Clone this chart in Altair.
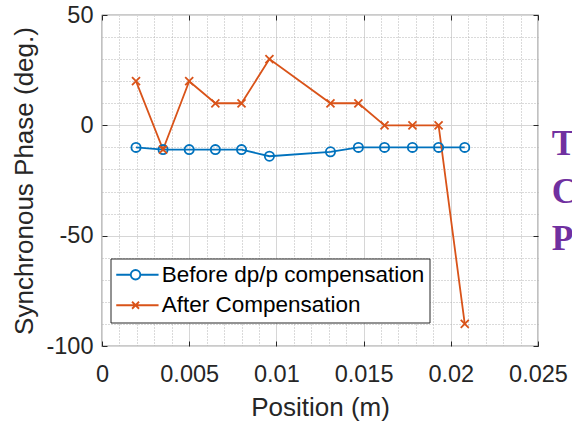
import altair as alt
import pandas as pd

# ---- data ----
positions = [0.00195, 0.0035, 0.005, 0.0065, 0.008, 0.0096, 0.0131, 0.0147, 0.0162, 0.0178, 0.0193, 0.0208]
before_phase = [-10, -11, -11, -11, -11, -14, -12, -10, -10, -10, -10, -10]
after_phase = [20, -11, 20, 10, 10, 30, 10, 10, 0, 0, 0, -90]
series_names = ["Before dp/p compensation", "After Compensation"]
series_colors = ["#0072BD", "#D95319"]
x_major = [0, 0.005, 0.01, 0.015, 0.02, 0.025]
x_minor = [0, 0.001, 0.002, 0.003, 0.004, 0.005, 0.006, 0.007, 0.008, 0.009, 0.01,
           0.011, 0.012, 0.013, 0.014, 0.015, 0.016, 0.017, 0.018, 0.019, 0.02,
           0.021, 0.022, 0.023, 0.024, 0.025]
y_major = [-100, -50, 0, 50]
y_minor = [-100, -90, -80, -70, -60, -50, -40, -30, -20, -10, 0, 10, 20, 30, 40, 50]
side_letters = ["T", "C", "P"]

rows = []
for p, b in zip(positions, before_phase):
    rows.append({"position": p, "phase": b, "series": series_names[0]})
for p, a in zip(positions, after_phase):
    rows.append({"position": p, "phase": a, "series": series_names[1]})
df = pd.DataFrame(rows)

FONT = "Liberation Sans"
TXT = "#262626"
xs = alt.Scale(domain=[0, 0.025], nice=False, zero=False)
ys = alt.Scale(domain=[-100, 50], nice=False, zero=False)
cs = alt.Scale(domain=series_names, range=series_colors)

base = alt.Chart(df)

LEG_CIRCLE = "M-2.1,0H0.81M2.71,0H6.36M0.81,0A0.95,0.95 0 1,1 2.71,0A0.95,0.95 0 1,1 0.81,0"
LEG_X = "M-2.1,0H6.36M1.06,-0.7L2.46,0.7M1.06,0.7L2.46,-0.7"
leg_props = dict(
    title=None, orient="none", legendX=8.5, legendY=243.5,
    strokeColor="#262626", fillColor="white", padding=5,
    labelFont=FONT, labelFontSize=22.5, labelColor="#000000", labelOffset=23.7,
    labelLimit=500,
    symbolSize=100, symbolStrokeWidth=1.8, symbolOpacity=1, rowPadding=7.5,
    symbolFillColor="transparent",
)
# invisible layer that only carries the legend (first, so its legend settings win)
legend_layer = base.mark_point(opacity=0, filled=False, strokeWidth=1.8).encode(
    x=alt.X("position:Q", scale=xs, axis=None),
    y=alt.Y("phase:Q", scale=ys, axis=None),
    color=alt.Color("series:N", scale=cs, legend=alt.Legend(**leg_props)),
    shape=alt.Shape("series:N", scale=alt.Scale(domain=series_names, range=[LEG_CIRCLE, LEG_X]),
                    legend=alt.Legend(**leg_props)),
)

# minor dotted grid
minor = base.mark_point(opacity=0).encode(
    x=alt.X("position:Q", scale=xs, axis=alt.Axis(
        orient="bottom", values=x_minor, grid=True, gridDash=[1, 2], gridColor="#b5b5b5",
        gridWidth=1, labels=False, ticks=False, domain=False, title=None)),
    y=alt.Y("phase:Q", scale=ys, axis=alt.Axis(
        orient="left", values=y_minor, grid=True, gridDash=[1, 2], gridColor="#b5b5b5",
        gridWidth=1, labels=False, ticks=False, domain=False, title=None)),
)

# major grid + labels + titles
major = base.mark_point(opacity=0).encode(
    x=alt.X("position:Q", scale=xs, axis=alt.Axis(
        orient="bottom", values=x_major, grid=True, gridColor="#d6d6d6", gridWidth=1,
        ticks=False, domain=False, labelExpr="datum.value + ''",
        labelFlush=False, labelOverlap=False,
        labelFont=FONT, labelFontSize=23.5, labelColor=TXT, labelPadding=16,
        title="Position (m)", titleFont=FONT, titleFontSize=26, titleFontWeight="normal",
        titleColor=TXT, titlePadding=9)),
    y=alt.Y("phase:Q", scale=ys, axis=alt.Axis(
        orient="left", values=y_major, grid=True, gridColor="#d6d6d6", gridWidth=1,
        ticks=False, domain=False, labelExpr="datum.value + ''",
        labelFlush=False, labelOverlap=False,
        labelFont=FONT, labelFontSize=23.5, labelColor=TXT, labelPadding=9,
        title="Synchronous Phase (deg.)", titleFont=FONT, titleFontSize=26,
        titleFontWeight="normal", titleColor=TXT, titlePadding=8)),
)

def tick_layer(xo, yo):
    return base.mark_point(opacity=0).encode(
        x=alt.X("position:Q", scale=xs, axis=alt.Axis(
            orient=xo, offset=-5, values=x_major, ticks=True, tickSize=5, tickColor=TXT,
            tickWidth=1, labels=False, domain=False, grid=False, title=None)),
        y=alt.Y("phase:Q", scale=ys, axis=alt.Axis(
            orient=yo, offset=-5, values=y_major, ticks=True, tickSize=5, tickColor=TXT,
            tickWidth=1, labels=False, domain=False, grid=False, title=None)),
    )

ticks_bl = tick_layer("bottom", "left")
ticks_tr = tick_layer("top", "right")

lines = base.mark_line(strokeWidth=1.8).encode(
    x=alt.X("position:Q", scale=xs, axis=None),
    y=alt.Y("phase:Q", scale=ys, axis=None),
    color=alt.Color("series:N", scale=cs, legend=None),
)

X_PATH = "M-1,-1L1,1M-1,1L1,-1"
pts_before = base.transform_filter(alt.datum.series == series_names[0]).mark_point(
    shape="circle", size=85, filled=False, strokeWidth=1.8, opacity=1).encode(
    x=alt.X("position:Q", scale=xs, axis=None),
    y=alt.Y("phase:Q", scale=ys, axis=None),
    color=alt.Color("series:N", scale=cs, legend=None),
)
pts_after = base.transform_filter(alt.datum.series == series_names[1]).mark_point(
    shape=X_PATH, size=64, filled=False, strokeWidth=1.8, opacity=1).encode(
    x=alt.X("position:Q", scale=xs, axis=None),
    y=alt.Y("phase:Q", scale=ys, axis=None),
    color=alt.Color("series:N", scale=cs, legend=None),
)

side = alt.Chart(pd.DataFrame({"k": [0]})).mark_text(
    font="Liberation Serif", fontWeight="bold", fontSize=35.5, color="#7030A0",
    align="left", baseline="alphabetic", lineHeight=47.5).encode(
    x=alt.value(449.7), y=alt.value(140), text=alt.value(side_letters))

chart = alt.layer(
    legend_layer, minor, major, ticks_bl, ticks_tr, lines, pts_before, pts_after, side
).resolve_axis(x="independent", y="independent").properties(
    width=436, height=331,
    padding={"left": 102, "top": 15, "right": 34, "bottom": 76},
    autosize=alt.AutoSizeParams(type="none"),
    background="white",
).configure_view(stroke="#333333", strokeWidth=1.2)

chart.save("out.html", embed_options={"renderer": "svg", "actions": False})
